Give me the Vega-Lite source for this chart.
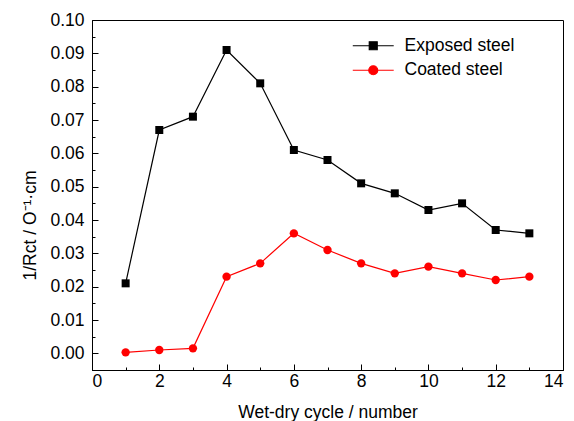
{
  "$schema": "https://vega.github.io/schema/vega-lite/v6.json",
  "width": 471,
  "height": 350,
  "autosize": {"type": "none"},
  "padding": {"left": 92, "top": 20, "right": 11, "bottom": 51},
  "background": "white",
  "config": {
    "font": "Liberation Sans",
    "view": {"stroke": "black", "strokeWidth": 1},
    "axis": {
      "domainColor": "black", "tickColor": "black", "labelColor": "black", "titleColor": "black",
      "labelFont": "Liberation Sans", "titleFont": "Liberation Sans",
      "labelFontSize": 17.5, "titleFontSize": 17.5, "titleFontWeight": "normal",
      "grid": false, "tickWidth": 1, "domainWidth": 1
    }
  },
  "data": {"values": [
    {"series": "Exposed steel", "cycle": 1, "value": 0.021},
    {"series": "Exposed steel", "cycle": 2, "value": 0.067},
    {"series": "Exposed steel", "cycle": 3, "value": 0.071},
    {"series": "Exposed steel", "cycle": 4, "value": 0.091},
    {"series": "Exposed steel", "cycle": 5, "value": 0.081},
    {"series": "Exposed steel", "cycle": 6, "value": 0.061},
    {"series": "Exposed steel", "cycle": 7, "value": 0.058},
    {"series": "Exposed steel", "cycle": 8, "value": 0.051},
    {"series": "Exposed steel", "cycle": 9, "value": 0.048},
    {"series": "Exposed steel", "cycle": 10, "value": 0.043},
    {"series": "Exposed steel", "cycle": 11, "value": 0.045},
    {"series": "Exposed steel", "cycle": 12, "value": 0.037},
    {"series": "Exposed steel", "cycle": 13, "value": 0.036},
    {"series": "Coated steel", "cycle": 1, "value": 0.0003},
    {"series": "Coated steel", "cycle": 2, "value": 0.001},
    {"series": "Coated steel", "cycle": 3, "value": 0.0015},
    {"series": "Coated steel", "cycle": 4, "value": 0.023},
    {"series": "Coated steel", "cycle": 5, "value": 0.027},
    {"series": "Coated steel", "cycle": 6, "value": 0.036},
    {"series": "Coated steel", "cycle": 7, "value": 0.031},
    {"series": "Coated steel", "cycle": 8, "value": 0.027},
    {"series": "Coated steel", "cycle": 9, "value": 0.024},
    {"series": "Coated steel", "cycle": 10, "value": 0.026},
    {"series": "Coated steel", "cycle": 11, "value": 0.024},
    {"series": "Coated steel", "cycle": 12, "value": 0.022},
    {"series": "Coated steel", "cycle": 13, "value": 0.023}
  ]},
  "encoding": {
    "x": {
      "field": "cycle", "type": "quantitative",
      "scale": {"domain": [0, 14], "nice": false},
      "axis": {
        "title": "Wet-dry cycle / number",
        "values": [0,1,2,3,4,5,6,7,8,9,10,11,12,13,14],
        "labelExpr": "datum.value % 2 === 0 ? datum.label : ''",
        "tickSize": {"condition": {"test": "datum.value % 2 === 0", "value": -6}, "value": -3},
        "labelPadding": 8,
        "titlePadding": 14
      }
    },
    "y": {
      "field": "value", "type": "quantitative",
      "scale": {"domain": [-0.005, 0.1], "nice": false, "zero": false},
      "axis": {
        "title": "1/Rct / O⁻¹·cm",
        "values": [0,0.005,0.01,0.015,0.02,0.025,0.03,0.035,0.04,0.045,0.05,0.055,0.06,0.065,0.07,0.075,0.08,0.085,0.09,0.095,0.1],
        "format": ".2f",
        "labelExpr": "abs(datum.value*100 - round(datum.value*100)) < 0.000001 ? datum.label : ''",
        "tickSize": {"condition": {"test": "abs(datum.value*100 - round(datum.value*100)) < 0.000001", "value": -6}, "value": -3},
        "labelPadding": 14,
        "titlePadding": 10,
        "titleY": 205
      }
    },
    "color": {
      "field": "series", "type": "nominal",
      "scale": {"domain": ["Exposed steel", "Coated steel"], "range": ["black", "red"]},
      "legend": {
        "orient": "none", "legendX": 272.5, "legendY": 17,
        "title": null,
        "labelFont": "Liberation Sans", "labelFontSize": 17.5, "labelColor": "black",
        "symbolSize": 225, "rowPadding": 5.5, "labelOffset": 22.5,
        "encode": {"symbols": {"update": {
          "shape": {"signal": "datum.value === 'Exposed steel' ? 'M-2.73,0H2.73M-0.53,-0.53H0.53V0.53H-0.53Z' : 'M-2.73,0H2.73M-0.6,0A0.6,0.6 0 1,0 0.6,0A0.6,0.6 0 1,0 -0.6,0Z'"},
          "fill": {"signal": "datum.value === 'Exposed steel' ? 'black' : 'red'"},
          "stroke": {"signal": "datum.value === 'Exposed steel' ? 'black' : 'red'"},
          "strokeWidth": {"value": 1.2},
          "opacity": {"value": 1}
        }}}
      }
    }
  },
  "layer": [
    {"mark": {"type": "line", "strokeWidth": 1.2}},
    {"transform": [{"filter": "datum.series === 'Exposed steel'"}],
     "mark": {"type": "point", "shape": "square", "filled": true, "opacity": 1, "size": 64}},
    {"transform": [{"filter": "datum.series === 'Coated steel'"}],
     "mark": {"type": "point", "shape": "circle", "filled": true, "opacity": 1, "size": 70}}
  ]
}
